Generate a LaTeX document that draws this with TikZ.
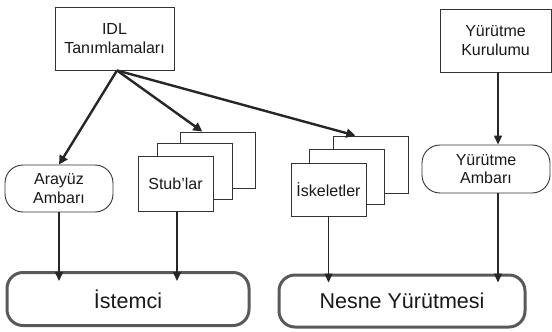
\documentclass[tikz,border=0pt]{standalone}
\usepackage{fontspec}
\setmainfont{Liberation Sans}
\usetikzlibrary{arrows.meta,calc}
\begin{document}
\begin{tikzpicture}[x=1pt,y=-1pt,
  box/.style={draw=black!80,line width=0.9pt,fill=white,inner sep=0pt,align=center,font=\fontsize{16}{18.5}\selectfont,text=black!90},
  oval/.style={box,rounded corners=18pt},
  big/.style={draw=black!65,line width=3pt,rounded corners=16pt,inner sep=0pt,font=\fontsize{21.5}{24}\selectfont,text=black!90},
  thick arrow/.style={draw=black!85,line width=2.4pt,-{Triangle[length=9pt,width=9pt]}},
  thin arrow/.style={draw=black!85,line width=1.4pt,-{Triangle[length=9pt,width=8pt]}}]
\useasboundingbox (0,0) rectangle (552,332);
\node[box,minimum width=119pt,minimum height=63pt] (idl) at (114.5,38.5) {IDL\\Tanımlamaları};
\node[box,minimum width=111pt,minimum height=63pt] (kur) at (495.5,40.5) {Yürütme\\Kurulumu};
\node[oval,minimum width=108pt,minimum height=47pt] (aray) at (59,188.5) {Arayüz\\Ambarı};
\node[oval,minimum width=128pt,minimum height=48pt] (yamb) at (486,169) {Yürütme\\Ambarı};
\node[box,minimum width=75pt,minimum height=56pt] (stubC) at (217.5,160) {};
\node[box,minimum width=75pt,minimum height=56pt] (stubB) at (194.5,171) {};
\node[box,minimum width=75pt,minimum height=55pt] (stubA) at (175.5,183.5) {Stub'lar};
\node[box,minimum width=75pt,minimum height=57pt] (iskC) at (370.5,164.5) {};
\node[box,minimum width=75pt,minimum height=55pt] (iskB) at (346.5,176.5) {};
\node[box,minimum width=75pt,minimum height=53pt] (iskA) at (328.5,189.5) {İskeletler};
\node[big,minimum width=242pt,minimum height=53pt] (ist) at (128,299) {İstemci};
\node[big,minimum width=246pt,minimum height=52pt] (nesne) at (402,301) {Nesne Yürütmesi};
\coordinate (src) at ($(idl.south)+(2.5,0)$);
\draw[thick arrow] (src) -- (aray.north);
\draw[thick arrow] (src) -- ($(stubC.north west)!0.3!(stubC.north east)$);
\draw[thick arrow] (src) -- ($(iskC.north west)!0.3!(iskC.north east)$);
\draw[thin arrow] ([xshift=2.5pt]kur.south) -- ([xshift=2.5pt]kur.south |- yamb.north);
\draw[thin arrow,shorten >=-10pt] (aray.south) -- (aray.south |- ist.north);
\draw[thin arrow,shorten >=-10pt] ([xshift=1.5pt]stubA.south) -- ([xshift=1.5pt]stubA.south |- ist.north);
\draw[thin arrow,shorten >=-9pt] (iskA.south) -- (iskA.south |- nesne.north);
\draw[thin arrow,shorten >=-9pt] ([xshift=12pt]yamb.south) -- ([xshift=12pt]yamb.south |- nesne.north);
\end{tikzpicture}
\end{document}
